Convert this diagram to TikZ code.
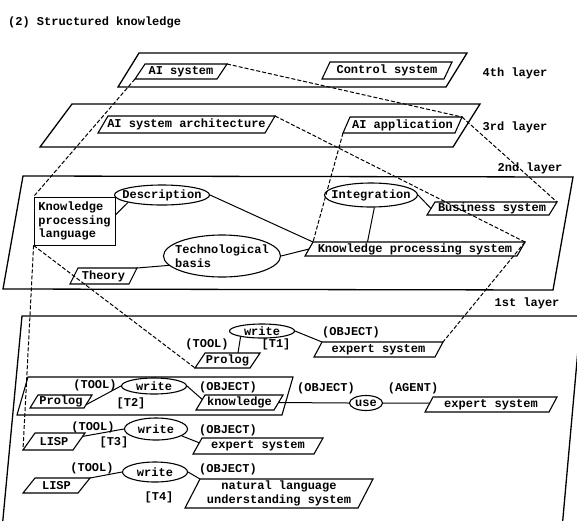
\documentclass[tikz,border=0pt]{standalone}
\usepackage{fontspec}
\setmonofont{Liberation Mono}
\usetikzlibrary{calc,shapes.geometric}
\tikzset{
  layer/.style={line width=1.3pt},
  pbox/.style={line width=1.1pt},
  txt/.style={font=\ttfamily\bfseries\fontsize{12}{13.5}\selectfont, inner sep=0pt, align=center},
  oval/.style={draw, ellipse, line width=1.1pt, inner sep=0pt},
  link/.style={line width=1pt},
  xlink/.style={line width=1pt, dash pattern=on 4pt off 2pt},
}
% name, x top-left, x top-right, y top, y bottom, slant offset, text
\newcommand{\pgm}[7]{%
  \coordinate (#1-tl) at (#2,#4);
  \coordinate (#1-tr) at (#3,#4);
  \coordinate (#1-bl) at ({#2-#6},#5);
  \coordinate (#1-br) at ({#3-#6},#5);
  \draw[pbox] (#1-tl) -- (#1-tr) -- (#1-br) -- (#1-bl) -- cycle;
  \node[txt] (#1) at ($(#1-tl)!0.5!(#1-br)$) {#7};
}
\begin{document}
\begin{tikzpicture}[x=1pt,y=-1pt]
\useasboundingbox (0,0) rectangle (577,520);
\fill[white] (0,0) rectangle (577,520);
\clip (0,0) rectangle (577,520);

% title
\node[txt, anchor=west] (title) at (8,22) {(2) Structured knowledge};

% ---------- layers ----------
\coordinate (L4tl) at (139,53);  \coordinate (L4tr) at (467,53);
\coordinate (L4br) at (446,87);  \coordinate (L4bl) at (118,87);
\draw[layer] (L4tl) -- (L4tr) -- (L4br) -- (L4bl) -- cycle;
\coordinate (L3tl) at (72,104);  \coordinate (L3tr) at (480,104);
\coordinate (L3br) at (453,147); \coordinate (L3bl) at (40,147);
\draw[layer] (L3tl) -- (L3tr) -- (L3br) -- (L3bl) -- cycle;
\coordinate (L2tl) at (23,176);  \coordinate (L2tr) at (573,177);
\coordinate (L2br) at (553,290); \coordinate (L2bl) at (3,289);
\draw[layer] (L2tl) -- (L2tr) -- (L2br) -- (L2bl) -- cycle;
\coordinate (L1tl) at (22,316);  \coordinate (L1tr) at (581,316);
\coordinate (L1br) at (561,540); \coordinate (L1bl) at (1,540);
\draw[layer] (L1tl) -- (L1tr) -- (L1br) -- (L1bl) -- cycle;
% container of row T2
\coordinate (Ctl) at (28,377);  \coordinate (Ctr) at (293,377);
\coordinate (Cbr) at (282,415); \coordinate (Cbl) at (17,415);
\draw[pbox] (Ctl) -- (Ctr) -- (Cbr) -- (Cbl) -- cycle;

% layer labels
\node[txt] (lab4) at (515,73) {4th layer};
\node[txt] (lab3) at (515,127) {3rd layer};
\node[txt] (lab2) at (530,168) {2nd layer};
\node[txt] (lab1) at (527,303) {1st layer};

% ---------- 4th layer ----------
\pgm{ais}{145}{227}{64}{79}{10}{AI system}
\pgm{ctl}{330}{452}{62}{79}{8}{Control system}

% ---------- 3rd layer ----------
\pgm{arch}{108}{275}{116}{133}{10}{AI system architecture}
\pgm{app}{350}{462}{117}{133}{7}{AI application}

% ---------- 2nd layer ----------
\node[draw, line width=0.8pt, rectangle, minimum width=81pt, minimum height=48pt,
      inner sep=0pt, txt, align=left] (kpl) at (74.5,221)
      {Knowledge\\processing\\language};
\node[oval, minimum width=95pt, minimum height=20pt,
      label={[txt]center:Description}] (desc) at (162,195) {};
\node[oval, minimum width=117pt, minimum height=42pt,
      label={[txt, align=left]center:Technological\\basis}] (tech) at (222,256) {};
\node[oval, minimum width=93pt, minimum height=24pt,
      label={[txt]center:Integration}] (integ) at (371,195) {};
\pgm{theo}{78}{137}{268}{284}{8}{Theory}
\pgm{bus}{435}{557}{202}{215}{8}{Business system}
\pgm{kps}{313}{525}{242}{256}{8}{Knowledge processing system}

% ---------- 1st layer ----------
% row T1
\node[oval, minimum width=65pt, minimum height=14pt,
      label={[txt]center:write}] (w1) at (262,331) {};
\node[txt] (tool1) at (207,344) {(TOOL)};
\node[txt] (t1) at (276,344) {[T1]};
\node[txt] (obj1) at (351,332) {(OBJECT)};
\pgm{p1}{205}{260}{353}{368}{10}{Prolog}
\pgm{e1}{322}{443}{342}{357}{8}{expert system}
% row T2
\node[oval, minimum width=65pt, minimum height=16pt,
      label={[txt]center:write}] (w2) at (154,386) {};
\node[txt] (tool2) at (95,385) {(TOOL)};
\node[txt] (t2) at (131,403) {[T2]};
\node[txt] (obj2) at (228,387) {(OBJECT)};
\node[txt] (obj2b) at (326,388) {(OBJECT)};
\node[txt] (agent) at (413,388) {(AGENT)};
\pgm{p2}{38}{92}{395}{408}{8}{Prolog}
\pgm{k}{205}{283}{395}{410}{9}{knowledge}
\node[oval, minimum width=33pt, minimum height=15pt,
      label={[txt]center:use}] (use) at (366,403) {};
\pgm{e2}{433}{557}{397}{412}{8}{expert system}
% row T3
\node[oval, minimum width=63pt, minimum height=22pt,
      label={[txt]center:write}] (w3) at (156,429) {};
\node[txt] (tool3) at (93,427) {(TOOL)};
\node[txt] (t3) at (114,442) {[T3]};
\node[txt] (obj3) at (228,430) {(OBJECT)};
\pgm{l3}{35}{85}{433}{450}{12}{LISP}
\pgm{e3}{202}{323}{438}{454}{9}{expert system}
% row T4
\node[oval, minimum width=65pt, minimum height=20pt,
      label={[txt]center:write}] (w4) at (155,472) {};
\node[txt] (tool4) at (92,468) {(TOOL)};
\node[txt] (obj4) at (228,469) {(OBJECT)};
\node[txt] (t4) at (159,497) {[T4]};
\pgm{l4}{35}{90}{478}{493}{12}{LISP}
\pgm{n}{200}{373}{479}{508}{15}{natural language\\understanding system}

% ---------- connectors inside layers ----------
\draw[link] (desc.south west) -- ($(kpl.north east)!0.375!(kpl.south east)$);
\draw[link] (desc.east) -- (kps-tl);
\draw[link] (tech.190) -- (theo-tr);
\draw[link] (tech.east) -- ($(kps-tl)!0.5!(kps-bl)$);
\draw[link] (integ.east) -- ($(bus-tl)!0.5!(bus-bl)$);
\draw[link] (integ.-75) -- ($(kps-tl)!0.257!(kps-tr)$);

\draw[link] (w1.195) -- ($(p1-tl)!0.6!(p1-tr)$);
\draw[link] (w1.east) -- (e1-tl);
\draw[link] (w2.west) -- ($(p2-tr)!0.75!(p2-br)$);
\draw[link] (w2.east) -- ($(k-tl)!0.3!(k-bl)$);
\draw[link] ($(k-tr)!0.5!(k-br)$) -- (use.west);
\draw[link] (use.east) -- ($(e2-tl)!0.4!(e2-bl)$);
\draw[link] (w3.west) -- ($(l3-tr)!0.2!(l3-br)$);
\draw[link] (w3.-15) -- ($(e3-tl)!0.3!(e3-bl)$);
\draw[link] (w4.west) -- (l4-tr);
\draw[link] (w4.east) -- (n-tl);

% ---------- connectors between layers ----------
\draw[xlink] (ais-bl) -- (kpl.north west);
\draw[xlink] (ais-tr) -- (app-tr);
\draw[xlink] (app-tr) -- (bus-tr);
\draw[xlink] (app-bl) -- (kps-tl);
\draw[xlink] (arch-tr) -- (kps-tr);
\draw[xlink] (kps-tr) -- (e1-tr);
\draw[xlink] (kpl.south west) -- (p1-bl);
\draw[xlink] (kpl.south west) -- (l3-bl);
\end{tikzpicture}
\end{document}
